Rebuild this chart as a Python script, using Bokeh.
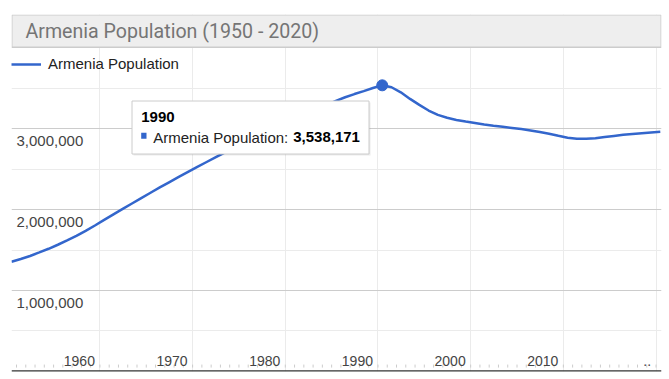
from bokeh.plotting import figure
from bokeh.models import (Range1d, Grid, FixedTicker, Span, BoxAnnotation, Label,
                          Legend, LegendItem, ColumnDataSource)
from bokeh.core.properties import value
from bokeh.embed import file_html
from bokeh.resources import INLINE

# ---------------- data ----------------
title_text = "Armenia Population (1950 - 2020)"
series_name = "Armenia Population"
years = list(range(1950, 2021))
population = [
    1354000, 1389000, 1426000, 1470000, 1515000, 1565000, 1618000, 1675000, 1737000, 1803000,
    1872000, 1941000, 2009000, 2076000, 2143000, 2209000, 2274000, 2338000, 2401000, 2463000,
    2525000, 2586000, 2646000, 2706000, 2766000, 2825000, 2881000, 2936000, 2990000, 3043000,
    3096000, 3148000, 3198000, 3247000, 3296000, 3345000, 3390000, 3430000, 3467000, 3505000,
    3538171, 3514000, 3452000, 3370000, 3296000, 3226000, 3172000, 3136000, 3110000, 3090000,
    3072000, 3054000, 3039000, 3025000, 3011000, 2997000, 2980000, 2960000, 2938000, 2913000,
    2890000, 2878000, 2876000, 2884000, 2898000, 2912000, 2925000, 2936000, 2946000, 2955000,
    2963000,
]
decades = [1960, 1970, 1980, 1990, 2000, 2010, 2020]
decade_labels = ["1960", "1970", "1980", "1990", "2000", "2010", ".."]
y_major = [1000000, 2000000, 3000000, 4000000]
y_minor = [500000, 1500000, 2500000, 3500000]
y_labels_vals = [1000000, 2000000, 3000000]
highlight_year = 1990

# ---------------- styles ----------------
BLUE = "#3366cc"
FONT = "Liberation Sans"
TICK_SHIFT = 0.46   # gridlines sit at the start of the year, data at mid-year

p = figure(width=669, height=379, output_backend="svg", toolbar_location=None,
           x_axis_location=None, y_axis_location=None, title=None,
           min_border_left=11, min_border_right=8, min_border_top=14, min_border_bottom=8,
           x_range=Range1d(1950.0, 2020.13), y_range=Range1d(-3700, 4414600))
p.outline_line_color = None
p.background_fill_color = "white"
p.border_fill_color = "white"
p.grid.visible = False

grid_x = [d - TICK_SHIFT for d in decades]
p.add_layout(Grid(dimension=0, ticker=FixedTicker(ticks=grid_x), grid_line_color="#ebebeb"))
p.add_layout(Grid(dimension=1, ticker=FixedTicker(ticks=y_minor), grid_line_color="#ebebeb"))
p.add_layout(Grid(dimension=1, ticker=FixedTicker(ticks=y_major), grid_line_color="#cccccc"))

# small year ticks along the baseline
tick_x = [y - TICK_SHIFT for y in years[1:]]
p.segment(x0=tick_x, y0=[45000] * len(tick_x), x1=tick_x, y1=[82000] * len(tick_x),
          line_color="#cccccc", line_width=1)
p.add_layout(Span(location=0, dimension="width", line_color="#333333", line_width=2))

# line
src = ColumnDataSource(dict(x=years, y=population))
line_r = p.line("x", "y", source=src, line_color=BLUE, line_width=2.5)

# highlighted point
hi = years.index(highlight_year)
p.scatter([years[hi]], [population[hi]], size=11, fill_color=BLUE, line_color=BLUE)

# axis labels
p.text(x=grid_x, y=[0] * len(grid_x), text=decade_labels, text_align="right",
       text_baseline="middle", x_offset=-5, y_offset=-10.5,
       text_font=value(FONT), text_font_size="14px", text_color="#444444")
p.text(x=[1950.0] * len(y_labels_vals), y=y_labels_vals,
       text=[f"{v:,}" for v in y_labels_vals], text_align="left",
       text_baseline="middle", x_offset=5, y_offset=12.5,
       text_font=value(FONT), text_font_size="15px", text_color="#444444")

# title box
p.add_layout(BoxAnnotation(left=11.5, right=660.5, top=14.5, bottom=46.5,
                           left_units="canvas", right_units="canvas",
                           top_units="canvas", bottom_units="canvas",
                           fill_color="#eeeeee", fill_alpha=1.0,
                           line_color="#cccccc", line_width=1, line_alpha=1.0))
p.add_layout(Label(x=25, y=31, x_units="canvas", y_units="canvas", text=title_text,
                   text_font="Roboto", text_font_size="19.6px",
                   text_color="#757575", text_baseline="middle", text_align="left"))

# legend
legend = Legend(items=[LegendItem(label=series_name, renderers=[line_r])],
                location=(0, 299), padding=0, margin=0, spacing=0,
                glyph_width=30, glyph_height=16, label_height=16, label_standoff=7,
                label_text_font=FONT, label_text_font_size="15px",
                label_text_color="#222222",
                border_line_color=None, background_fill_alpha=0)
p.add_layout(legend)

# tooltip
p.add_layout(BoxAnnotation(left=133, right=370, top=102, bottom=155,
                           left_units="canvas", right_units="canvas",
                           top_units="canvas", bottom_units="canvas",
                           fill_color="#000000", fill_alpha=0.08, line_color=None))
p.add_layout(BoxAnnotation(left=131.5, right=368.5, top=100.5, bottom=153.5,
                           left_units="canvas", right_units="canvas",
                           top_units="canvas", bottom_units="canvas",
                           fill_color="white", fill_alpha=1.0,
                           line_color="#cccccc", line_width=1, line_alpha=1.0))
p.add_layout(BoxAnnotation(left=140.7, right=146.0, top=132.3, bottom=138.3,
                           left_units="canvas", right_units="canvas",
                           top_units="canvas", bottom_units="canvas",
                           fill_color=BLUE, fill_alpha=1.0, line_color=None))
p.add_layout(Label(x=140.7, y=116.7, x_units="canvas", y_units="canvas",
                   text=str(years[hi]), text_font=FONT, text_font_size="15px",
                   text_font_style="bold", text_color="#000000", text_baseline="middle"))
p.add_layout(Label(x=152.7, y=136.7, x_units="canvas", y_units="canvas",
                   text=series_name + ":", text_font=FONT, text_font_size="15px",
                   text_color="#222222", text_baseline="middle"))
p.add_layout(Label(x=292.7, y=136.7, x_units="canvas", y_units="canvas",
                   text=f"{population[hi]:,}", text_font=FONT, text_font_size="15px",
                   text_font_style="bold", text_color="#000000", text_baseline="middle"))

open("out.html", "w").write(file_html(p, INLINE))
